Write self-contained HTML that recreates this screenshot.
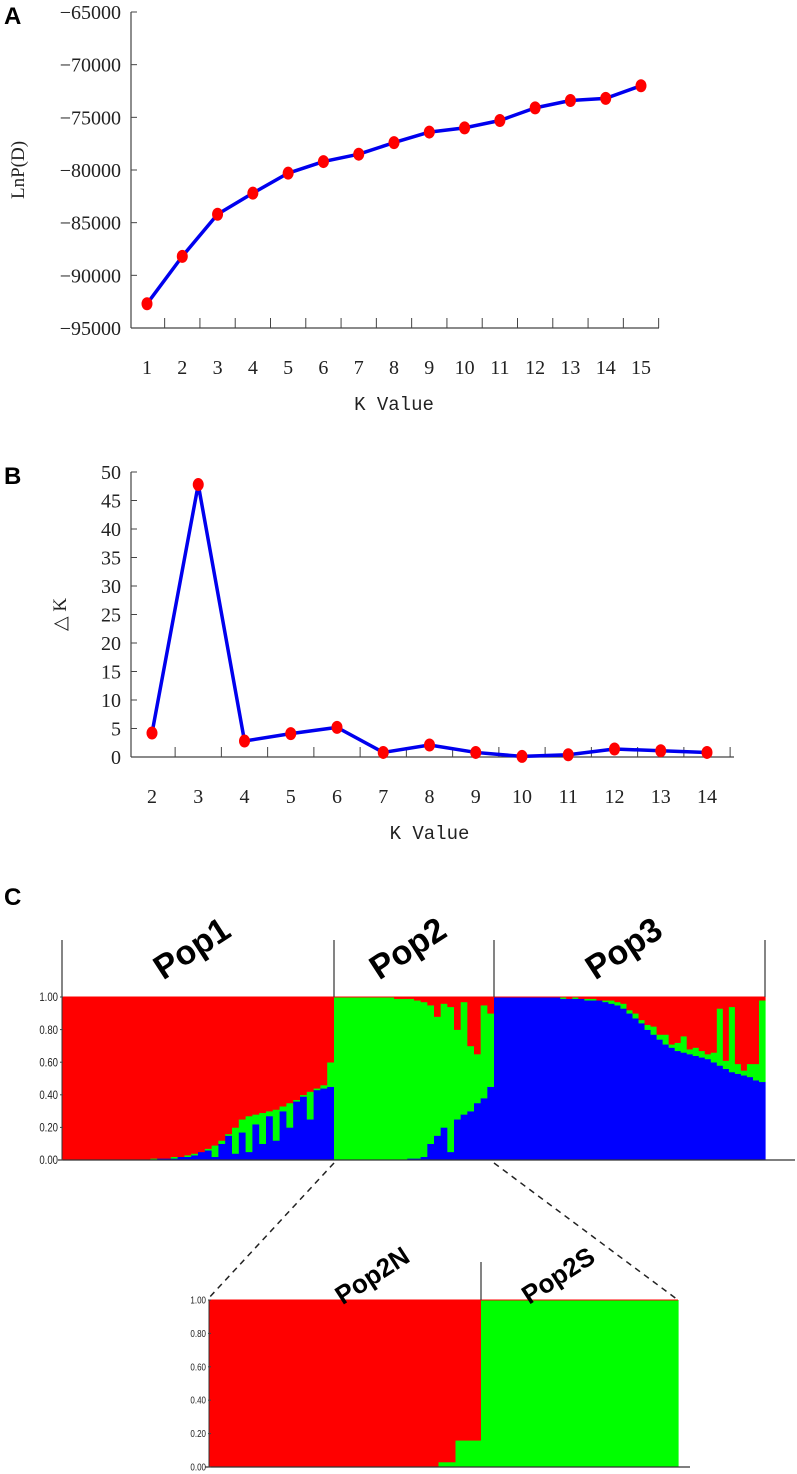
<!DOCTYPE html>
<html><head><meta charset="utf-8"><style>
html,body{margin:0;padding:0;background:#fff}
svg{display:block}
</style></head><body>
<svg id="fig" width="797" height="1474" viewBox="0 0 797 1474" xmlns="http://www.w3.org/2000/svg">
<g id="A"></g>
<g id="B"></g>
<g id="C"></g>
</svg>
<script>
const kA = [1,2,3,4,5,6,7,8,9,10,11,12,13,14,15];
const lnP = [-92700,-88200,-84200,-82200,-80300,-79200,-78500,-77400,-76400,-76000,-75300,-74100,-73400,-73200,-72000];
const yTicksA = [-65000,-70000,-75000,-80000,-85000,-90000,-95000];
const kB = [2,3,4,5,6,7,8,9,10,11,12,13,14];
const deltaK = [4.2,47.8,2.8,4.1,5.2,0.8,2.1,0.8,0.1,0.4,1.4,1.1,0.8];
const yTicksB = [0,5,10,15,20,25,30,35,40,45,50];
// structure plot: per-individual fractions (bottom blue, middle green, top red)
const pop1Other = [0,0,0,0,0,0,0,0,0,0,0,0,0,0.01,0.01,0.01,0.02,0.02,0.03,0.04,0.05,0.07,0.09,0.12,0.16,0.2,0.25,0.27,0.28,0.29,0.3,0.31,0.33,0.35,0.37,0.4,0.42,0.44,0.46,0.6];
const pop1Blue  = [0,0,0,0,0,0,0,0,0,0,0,0,0,0,0.01,0.01,0.01,0.02,0.02,0.03,0.05,0.06,0.02,0.1,0.15,0.04,0.17,0.05,0.22,0.1,0.27,0.12,0.3,0.2,0.36,0.39,0.25,0.43,0.44,0.45];
const pop2Red  = [0,0,0,0,0,0,0,0,0,0.01,0.01,0.01,0.02,0.03,0.05,0.12,0.04,0.06,0.2,0.03,0.3,0.35,0.05,0.1];
const pop2Blue = [0,0,0,0,0,0,0,0,0,0,0,0.01,0.01,0.02,0.1,0.15,0.2,0.05,0.25,0.28,0.3,0.35,0.38,0.45];
const pop3Blue = [1,1,1,1,1,1,1,1,1,1,1,0.99,0.99,0.99,0.99,0.98,0.98,0.98,0.97,0.96,0.95,0.93,0.9,0.87,0.84,0.8,0.77,0.74,0.71,0.69,0.67,0.66,0.65,0.64,0.63,0.62,0.6,0.58,0.56,0.54,0.53,0.52,0.51,0.49,0.48];
const pop3Green= [0,0,0,0,0,0,0,0,0,0,0,0.01,0,0.01,0,0.01,0.01,0,0.01,0.02,0.02,0.03,0.02,0.03,0.02,0.03,0.05,0.03,0.06,0.02,0.05,0.1,0.03,0.05,0.04,0.03,0.06,0.35,0.05,0.4,0.06,0.03,0.08,0.1,0.5];
const pop2NRed = [1,1,1,1,1,1,1,1,1,1,1,1,1,1,1,1,1,1,1,1,1,1,1,1,1,1,1,0.97,0.97,0.84,0.84,0.84];
const pop2SGreen = [1,1,1,1,1,1,1,1,1,1,1,1,1,1,1,1,1,1,1,1,1,1,1,1,1,1,1,1,1,1];
const ticksC = [1.00,0.80,0.60,0.40,0.20,0.00];

const NS="http://www.w3.org/2000/svg";
function mk(parent,tag,attrs,text){const e=document.createElementNS(NS,tag);for(const k in attrs)e.setAttribute(k,attrs[k]);if(text!==undefined)e.textContent=text;parent.appendChild(e);return e;}
const SER='"Liberation Serif","DejaVu Serif",serif';
const SANS='"Liberation Sans",Arial,sans-serif';

function linePanel(g,xs,ys,yTicks,ymin,ymax,cfg,letter,yTitle){
  const sx=i=>cfg.x0+(cfg.x1-cfg.x0)*i/(xs.length-1);
  const sy=v=>cfg.yb+(cfg.yt-cfg.yb)*(v-ymin)/(ymax-ymin);
  let t=mk(g,'text',{x:4,y:cfg.yt+12,'font-family':SANS,'font-weight':'bold','font-size':24},letter);
  
  
  let ax=mk(g,'line',{x1:cfg.ax,y1:cfg.yt,x2:cfg.ax,y2:cfg.yb,stroke:'#444','stroke-width':1.2});
  
  
  let xa=mk(g,'line',{x1:cfg.ax,y1:cfg.yb,x2:cfg.axEnd,y2:cfg.yb,stroke:'#444','stroke-width':1.2});
  
  
  yTicks.forEach(v=>{
    const y=sy(v);
    mk(g,'line',{x1:cfg.ax,y1:y,x2:cfg.ax+6,y2:y,stroke:'#444'});
    let l=mk(g,'text',{x:cfg.ax-10,y:y+7,'text-anchor':'end','font-family':SER,'font-size':20,fill:'#222'},String(v).replace('-','\u2212'));
    
    
  });
  const step=(cfg.x1-cfg.x0)/(xs.length-1);
  for(let i=0;i<=xs.length;i++){const x=cfg.x0-step/2+i*step; if(x>cfg.ax+2&&x<=cfg.axEnd+1) mk(g,'line',{x1:x,y1:cfg.yb,x2:x,y2:cfg.yb-10,stroke:'#444'});}
  xs.forEach((k,i)=>{
    let l=mk(g,'text',{x:sx(i),y:cfg.yb+46,'text-anchor':'middle','font-family':SER,'font-size':20,fill:'#222'},k);
    
    
  });
  let xt=mk(g,'text',{x:(cfg.x0+cfg.x1)/2,y:cfg.yb+82,'text-anchor':'middle','font-family':'"Liberation Mono",monospace','font-size':19,fill:'#222'},'K Value');
  
  
  const cy=(cfg.yt+cfg.yb)/2;
  let yt=mk(g,'text',{x:0,y:0,transform:`translate(${cfg.ytx},${cy}) rotate(-90)`,'text-anchor':'middle','font-family':SER,'font-size':19,fill:'#222'},yTitle);
  
  
  let p=mk(g,'polyline',{points:ys.map((v,i)=>sx(i)+','+sy(v)).join(' '),fill:'none',stroke:'#0000ee','stroke-width':3.5,'stroke-linejoin':'round'});
  
  
  ys.forEach((v,i)=>{
    let c=mk(g,'ellipse',{cx:sx(i),cy:sy(v),rx:5.5,ry:6.5,fill:'#ff0000'});
    
    
  });
}
linePanel(document.getElementById('A'),kA,lnP,yTicksA,-95000,-65000,{ax:131,axEnd:659,x0:147,x1:641,yt:12,yb:328,ytx:24},'A','LnP(D)');
linePanel(document.getElementById('B'),kB,deltaK,yTicksB,0,50,{ax:131,axEnd:734,x0:152,x1:707,yt:472,yb:757,ytx:66},'B','\u25B3 K');

// Panel C
const C=document.getElementById('C');
let lc=mk(C,'text',{x:4,y:905,'font-family':SANS,'font-weight':'bold','font-size':24},'C');


function structPlot(g,x0,x1,yt,yb,bars,showAxis){
  const n=bars.length,w=(x1-x0)/n;
  const sy=v=>yb-(yb-yt)*v;
  bars.forEach((b,i)=>{
    const x=x0+i*w;let acc=0;
    [['blue','#0000ff'],['green','#00ff00'],['red','#ff0000']].forEach(([k,col])=>{
      const v=b[k]||0;if(v<=0)return;
      let r=mk(g,'rect',{x:x,y:sy(acc+v),width:w+0.6,height:(yb-yt)*v+0.3,fill:col});
      
      
      acc+=v;
    });
  });
}
function tickLabels(g,x,yt,yb,fs){
  ticksC.forEach(v=>{
    const y=yb-(yb-yt)*v;
    let l=mk(g,'text',{x:x,y:y+fs*0.35,'text-anchor':'end','font-family':SANS,'font-size':fs,fill:'#222','transform':`scale(0.8,1)`,'transform-origin':`${x} ${y}`},v.toFixed(2));
    
    
    mk(g,'line',{x1:x+2,y1:y,x2:x+5,y2:y,stroke:'#444'});
  });
}
const yt=997,yb=1160;
structPlot(C,62,334,yt,yb,pop1Other.map((o,i)=>({blue:pop1Blue[i],green:o-pop1Blue[i],red:1-o})),true);
structPlot(C,334,494,yt,yb,pop2Red.map((r,i)=>({blue:pop2Blue[i],green:1-r-pop2Blue[i],red:r})),true);
structPlot(C,494,765,yt,yb,pop3Blue.map((b,i)=>({blue:b,green:pop3Green[i],red:1-b-pop3Green[i]})),true);
mk(C,'line',{x1:62,y1:yt,x2:765,y2:yt,stroke:'#ff0000','stroke-width':1});
mk(C,'line',{x1:58,y1:yb,x2:795,y2:yb,stroke:'#333','stroke-width':1.2});
[62,334,494,765].forEach(x=>mk(C,'line',{x1:x,y1:940,x2:x,y2:yt,stroke:'#333','stroke-width':1.2}));
mk(C,'line',{x1:62,y1:yt,x2:62,y2:yb,stroke:'#333','stroke-width':1});
tickLabels(C,58,yt,yb,12);
[['Pop1',198],['Pop2',414],['Pop3',630]].forEach(([t,x])=>{
  let l=mk(C,'text',{x:0,y:0,transform:`translate(${x},${958}) rotate(-33)`,'text-anchor':'middle','font-family':SANS,'font-weight':'bold','font-size':34,fill:'#000'},t);
  
  
});
// dashed connectors
mk(C,'line',{x1:334,y1:1163,x2:207,y2:1300,stroke:'#222','stroke-width':1.5,'stroke-dasharray':'6,5'});
mk(C,'line',{x1:494,y1:1163,x2:678,y2:1300,stroke:'#222','stroke-width':1.5,'stroke-dasharray':'6,5'});
// inset
const it=1300,ib=1467;
structPlot(C,209,481,it,ib,pop2NRed.map(r=>({green:1-r,red:r})));
structPlot(C,481,678,it,ib,pop2SGreen.map(g=>({green:g,red:1-g})));
mk(C,'line',{x1:209,y1:it,x2:678,y2:it,stroke:'#ff0000','stroke-width':1});
mk(C,'line',{x1:205,y1:ib,x2:690,y2:ib,stroke:'#333','stroke-width':1.2});
mk(C,'line',{x1:209,y1:it,x2:209,y2:ib,stroke:'#333','stroke-width':1});
mk(C,'line',{x1:481,y1:1262,x2:481,y2:it,stroke:'#333','stroke-width':1.2});
tickLabels(C,206,it,ib,10);
[['Pop2N',377],['Pop2S',563]].forEach(([t,x])=>{
  let l=mk(C,'text',{x:0,y:0,transform:`translate(${x},${1283}) rotate(-33)`,'text-anchor':'middle','font-family':SANS,'font-weight':'bold','font-size':26,fill:'#000'},t);
  
  
});
</script>
</body></html>
